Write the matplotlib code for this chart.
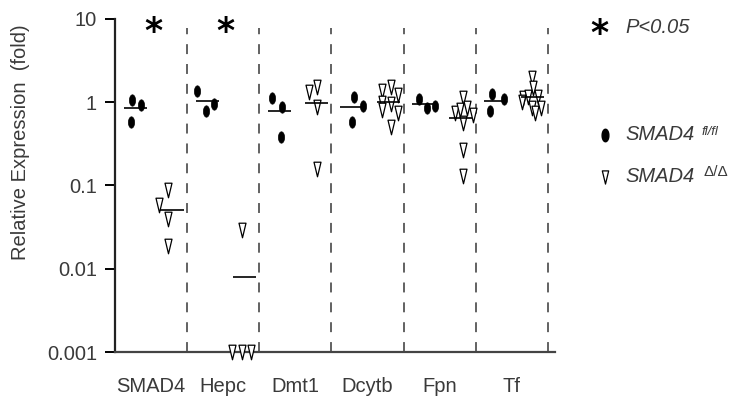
import numpy as np
import matplotlib
matplotlib.use("Agg")
import matplotlib.pyplot as plt
from matplotlib.path import Path

plt.rcParams['font.family'] = ['Liberation Sans', 'DejaVu Sans']

genes = ['SMAD4', 'Hepc', 'Dmt1', 'Dcytb', 'Fpn', 'Tf']

# SMAD4 fl/fl (controls), fold expression per animal
flfl_vals = [
    [1.06, 0.93, 0.58],
    [1.35, 0.95, 0.78],
    [1.12, 0.88, 0.38],
    [1.17, 0.90, 0.58],
    [1.09, 0.85, 0.90],
    [1.26, 1.09, 0.78],
]
flfl_dx = [
    [-0.26, -0.14, -0.28],
    [-0.36, -0.13, -0.24],
    [-0.32, -0.19, -0.20],
    [-0.18, -0.06, -0.21],
    [-0.29, -0.18, -0.06],
    [-0.28, -0.11, -0.30],
]

# SMAD4 delta/delta (knockouts)
dd_vals = [
    [0.088, 0.058, 0.040, 0.019],
    [0.029, 0.001, 0.001, 0.001],
    [1.33, 1.52, 0.88, 0.16],
    [1.36, 1.52, 1.22, 0.98, 0.95, 0.81, 0.74, 0.50],
    [1.12, 0.74, 0.81, 0.85, 0.70, 0.56, 0.27, 0.13],
    [1.95, 1.12, 1.48, 1.16, 1.16, 1.00, 0.85, 0.85, 0.74],
]
dd_dx = [
    [0.24, 0.11, 0.24, 0.24],
    [0.26, 0.12, 0.26, 0.39],
    [0.19, 0.30, 0.30, 0.30],
    [0.20, 0.32, 0.43, 0.20, 0.32, 0.20, 0.43, 0.32],
    [0.32, 0.21, 0.28, 0.38, 0.46, 0.32, 0.32, 0.32],
    [0.28, 0.15, 0.29, 0.22, 0.36, 0.14, 0.28, 0.40, 0.32],
]

significant = ['SMAD4', 'Hepc']
yticks = [0.001, 0.01, 0.1, 1, 10]
ytick_labels = ['0.001', '0.01', '0.1', '1', '10']

# marker shapes: upright ellipse and narrow open down-triangle
t = np.linspace(0, 2 * np.pi, 40)
ellipse = Path(np.column_stack([0.27 * np.cos(t), 0.5 * np.sin(t)]))
tri = Path([(-0.24, 0.5), (0.24, 0.5), (0, -0.5), (-0.24, 0.5)],
           [Path.MOVETO, Path.LINETO, Path.LINETO, Path.CLOSEPOLY])

txt_col = '#3a3a3a'

fig = plt.figure(figsize=(7.4, 4.04), dpi=100)
ax = fig.add_axes([0.1554, 0.1287, 0.5946, 0.8243])
ax.set_yscale('log')
ax.set_ylim(0.001, 10)
ax.set_xlim(-0.5, 5.6)

for i in range(len(genes)):
    ax.vlines(i + 0.5, 0.001, 7.8, colors='#555555', linestyles=(0, (5.5, 5.5)), lw=1.3)

for i, g in enumerate(genes):
    xs = [i + d for d in flfl_dx[i]]
    ax.plot(xs, flfl_vals[i], ls='none', marker=ellipse, ms=8.2,
            mfc='black', mec='black', mew=0.5, clip_on=False, zorder=3)
    xs = [i + d for d in dd_dx[i]]
    ax.plot(xs, dd_vals[i], ls='none', marker=tri, ms=10.5,
            mfc='white', mec='black', mew=0.9, clip_on=False, zorder=3)
    m1 = np.mean(flfl_vals[i])
    m2 = np.mean(dd_vals[i])
    ax.hlines(m1, i - 0.22 - 0.16, i - 0.22 + 0.16, colors='black', lw=1.2, zorder=4)
    ax.hlines(m2, i + 0.29 - 0.16, i + 0.29 + 0.16, colors='black', lw=1.2, zorder=4)
    if g in significant:
        ax.text(i + 0.03, 7.0, '*', fontsize=25, fontweight='bold',
                ha='center', va='center', color='black', family='DejaVu Sans')

ax.spines['top'].set_visible(False)
ax.spines['right'].set_visible(False)
ax.spines['left'].set_linewidth(1.6)
ax.spines['bottom'].set_linewidth(1.6)
ax.spines['left'].set_color('#222222')
ax.spines['bottom'].set_color('#444444')

ax.set_yticks(yticks)
ax.set_yticklabels(ytick_labels)
ax.yaxis.set_minor_locator(matplotlib.ticker.NullLocator())
ax.tick_params(axis='y', length=7, width=1.4, pad=6, labelsize=14.5, labelcolor=txt_col)
ax.set_xticks(range(len(genes)))
ax.set_xticklabels(genes)
ax.tick_params(axis='x', length=0, pad=18, labelsize=14.5, labelcolor=txt_col)

ax.text(-0.215, 0.63, 'Relative Expression  (fold)', transform=ax.transAxes,
        rotation=90, ha='center', va='center', fontsize=14.5, color=txt_col)

# key on the right
ax.text(1.102, 0.955, '*', transform=ax.transAxes, fontsize=25, fontweight='bold',
        ha='center', va='center', family='DejaVu Sans', clip_on=False)
ax.text(1.159, 0.973, 'P<0.05', transform=ax.transAxes, fontsize=14.5,
        style='italic', ha='left', va='center', color=txt_col)

ax.plot([1.114], [0.652], transform=ax.transAxes, marker=ellipse, ms=9,
        mfc='black', mec='black', ls='none', clip_on=False)
t1 = ax.text(1.161, 0.652, 'SMAD4', transform=ax.transAxes, fontsize=14.5,
             style='italic', ha='left', va='center', color=txt_col)
ax.annotate('fl/fl', xy=(1, 1), xycoords=t1, xytext=(5, -5), textcoords='offset points',
            fontsize=9.5, style='italic', ha='left', va='center', color=txt_col)

ax.plot([1.114], [0.526], transform=ax.transAxes, marker=tri, ms=9.5,
        mfc='white', mec='black', mew=0.9, ls='none', clip_on=False)
t2 = ax.text(1.161, 0.526, 'SMAD4', transform=ax.transAxes, fontsize=14.5,
             style='italic', ha='left', va='center', color=txt_col)
ax.annotate('\u0394/\u0394', xy=(1, 1), xycoords=t2, xytext=(6, -3), textcoords='offset points',
            fontsize=11, ha='left', va='center', color=txt_col)

fig.savefig('out.png', dpi=100)
